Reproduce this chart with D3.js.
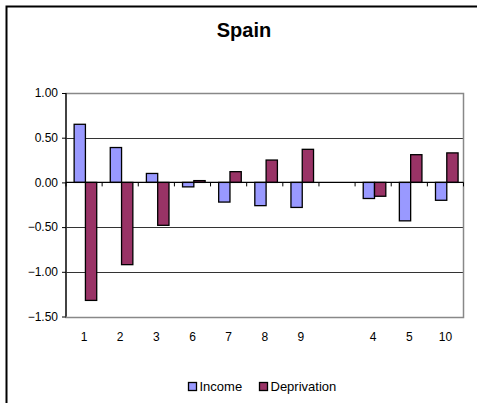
<!DOCTYPE html>
<html><head><meta charset="utf-8">
<script src="https://cdn.jsdelivr.net/npm/d3@7"></script>
<style>body{margin:0;background:#fff;} svg{display:block;font-family:"Liberation Sans",Arial,sans-serif;}</style>
</head><body>
<svg id="c" width="477" height="403"></svg>
<script>
const categories = ["1","2","3","6","7","8","9","","4","5","10"];
const income = [0.65, 0.39, 0.10, -0.05, -0.22, -0.26, -0.28, null, -0.18, -0.43, -0.20];
const deprivation = [-1.32, -0.92, -0.48, 0.02, 0.12, 0.25, 0.37, null, -0.155, 0.31, 0.33];
const yTicks = [1.0, 0.5, 0.0, -0.5, -1.0, -1.5];
const seriesNames = ["Income", "Deprivation"];
const colors = ["#9999FF", "#993366"];

const svg = d3.select("#c");
// outer chart border
svg.append("path").attr("d","M6.5,403 V6.5 H477").attr("fill","none").attr("stroke","#000").attr("stroke-width",2);

const L = 66, R = 463.5, T = 93, B = 316.5;
const keys = categories.map((c,i)=>"k"+i);
const x = d3.scaleBand().domain(keys).range([L,R]).paddingInner(0).paddingOuter(0);
const y = d3.scaleLinear().domain([-1.5,1.0]).range([B,T]);
const xi = d3.scaleBand().domain(seriesNames).range([0, x.bandwidth()]).paddingInner(0).paddingOuter(0.6).align(0.6);

svg.append("text").attr("x",244).attr("y",37).attr("text-anchor","middle")
  .attr("font-weight","bold").attr("font-size",20).text("Spain");

// gridlines
svg.append("g").selectAll("line").data(yTicks.filter(v=>v!==0 && v!==-1.5 && v!==1.0)).join("line")
  .attr("x1",L).attr("x2",R).attr("y1",d=>Math.round(y(d))+0.5).attr("y2",d=>Math.round(y(d))+0.5)
  .attr("stroke","#333").attr("stroke-width",1);
// plot border (grey)
svg.append("rect").attr("x",L).attr("y",Math.round(T)+0.5).attr("width",R-L).attr("height",Math.round(B)-Math.round(T))
  .attr("fill","none").attr("stroke","#888").attr("stroke-width",1.5);

// bars
const data = [];
categories.forEach((c,i)=>{
  [income[i], deprivation[i]].forEach((v,j)=>{ if(v!==null) data.push({k:keys[i], s:seriesNames[j], v, j}); });
});
svg.append("g").selectAll("rect").data(data).join("rect")
  .attr("x",d=>x(d.k)+xi(d.s))
  .attr("width",xi.bandwidth())
  .attr("y",d=>y(Math.max(0,d.v)))
  .attr("height",d=>Math.abs(y(d.v)-y(0)))
  .attr("fill",d=>colors[d.j]).attr("stroke","#000").attr("stroke-width",1.3);

// zero axis with ticks
const zg = svg.append("g").attr("transform",`translate(0,${y(0)})`);
zg.append("line").attr("x1",L).attr("x2",R).attr("stroke","#000").attr("stroke-width",1.2);
zg.selectAll("line.t").data(d3.range(keys.length+1)).join("line").attr("class","t")
  .attr("x1",i=>L+i*x.step()).attr("x2",i=>L+i*x.step()).attr("y1",0).attr("y2",4)
  .attr("stroke","#000");

// x labels
const xg = svg.append("g").attr("transform",`translate(0,${B})`)
  .call(d3.axisBottom(x).tickSize(0).tickPadding(16).tickFormat((d,i)=>categories[i]));
xg.select(".domain").remove();
xg.selectAll("text").attr("font-size",12).attr("font-family","Liberation Sans, Arial").attr("fill","#000");

// y axis
const yg = svg.append("g").attr("transform",`translate(${L},0)`)
  .call(d3.axisLeft(y).tickValues(yTicks).tickSize(4).tickPadding(4).tickFormat(d3.format(".2f")));
yg.select(".domain").attr("stroke","#000").attr("stroke-width",1.2).attr("d",`M0,${T}V${B}`);
yg.selectAll("text").attr("font-size",12).attr("font-family","Liberation Sans, Arial").attr("fill","#000");

// legend
const leg = svg.append("g");
const lx = [188, 259];
seriesNames.forEach((n,i)=>{
  leg.append("rect").attr("x",lx[i]+0.5).attr("y",382.5).attr("width",8).attr("height",8)
    .attr("fill",colors[i]).attr("stroke","#000").attr("stroke-width",1.3);
  leg.append("text").attr("x",lx[i]+11.5).attr("y",391).attr("font-size",13).attr("fill","#000").text(n);
});
</script>
</body></html>
